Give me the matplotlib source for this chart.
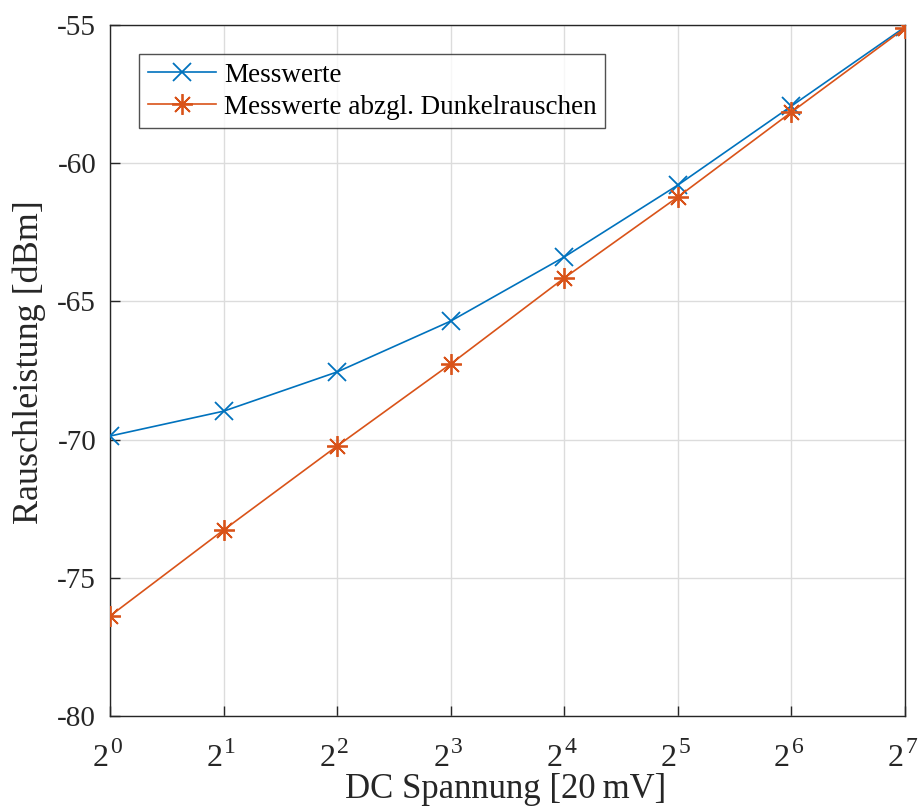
import matplotlib
matplotlib.use("Agg")
import matplotlib.pyplot as plt
from matplotlib.ticker import FixedLocator, NullFormatter
from matplotlib.transforms import blended_transform_factory

plt.rcParams['font.family'] = ['Liberation Serif', 'DejaVu Serif']

# DC voltage in multiples of 20 mV (log2 axis)
spannung = [1, 2, 4, 8, 16, 32, 64, 128]
messwerte = [-69.87, -68.97, -67.55, -65.71, -63.39, -60.79, -57.93, -55.07]
messwerte_ohne_dunkel = [-76.38, -73.27, -70.23, -67.26, -64.15, -61.22, -58.15, -55.11]

x_exponents = [0, 1, 2, 3, 4, 5, 6, 7]
y_ticks = [-80, -75, -70, -65, -60, -55]

fig = plt.figure(figsize=(9.2, 8.11), dpi=100)
ax = fig.add_axes([0.1196, 0.1171, 0.8641, 0.852])

blue = '#0072BD'
orange = '#D95319'
dark = '#262626'

ax.plot(spannung, messwerte, color=blue, lw=1.2, marker='x',
        markersize=13, markeredgewidth=1.3, label='Messwerte', zorder=3)
ax.plot(spannung, messwerte_ohne_dunkel, color=orange, lw=1.2, marker=(8, 2, 0),
        markersize=15, markeredgewidth=1.3,
        label='Messwerte abzgl. Dunkelrauschen', zorder=3)

ax.set_xscale('log', base=2)
ax.set_xlim(1, 128)
ax.set_ylim(-80, -55)
xt = [2 ** e for e in x_exponents]
ax.xaxis.set_major_locator(FixedLocator(xt))
ax.xaxis.set_major_formatter(NullFormatter())
ax.xaxis.set_minor_locator(FixedLocator([]))
ax.xaxis.set_minor_formatter(NullFormatter())
ax.set_yticks(y_ticks)
ax.set_yticklabels([str(t) for t in y_ticks])

# power-of-two tick labels: base and a large superscript exponent
trans = blended_transform_factory(ax.transData, ax.transAxes)
for e, xv in zip(x_exponents, xt):
    ax.annotate('2', xy=(xv, 0), xycoords=trans, xytext=(-1.0, -36),
                textcoords='offset points', ha='right', va='baseline',
                fontsize=23, color=dark, annotation_clip=False)
    ax.annotate(str(e), xy=(xv, 0), xycoords=trans, xytext=(0.2, -26.5),
                textcoords='offset points', ha='left', va='baseline',
                fontsize=17, color=dark, annotation_clip=False)

ax.grid(True, color='#dcdcdc', lw=1.0)
ax.set_axisbelow(True)
for s in ax.spines.values():
    s.set_color(dark)
    s.set_linewidth(1.0)
ax.tick_params(direction='in', length=7, width=1.0, colors=dark,
               labelsize=21, labelcolor=dark, pad=10,
               top=False, right=False)

ax.set_xlabel('DC Spannung [20\u2009mV]', fontsize=25, color=dark)
ax.xaxis.set_label_coords(0.4975, -0.083, transform=ax.transAxes)
ax.set_ylabel('Rauschleistung [dBm]', fontsize=26, color=dark)
ax.yaxis.set_label_coords(-0.0805, 0.512, transform=ax.transAxes)

leg = ax.legend(loc='upper left', bbox_to_anchor=(0.037, 0.958), fontsize=19.5,
                frameon=True, fancybox=False, edgecolor=dark,
                borderpad=0.32, handlelength=2.5, handletextpad=0.3,
                labelspacing=0.26, borderaxespad=0)
leg.get_frame().set_linewidth(1.0)

fig.savefig('out.png', dpi=100)
